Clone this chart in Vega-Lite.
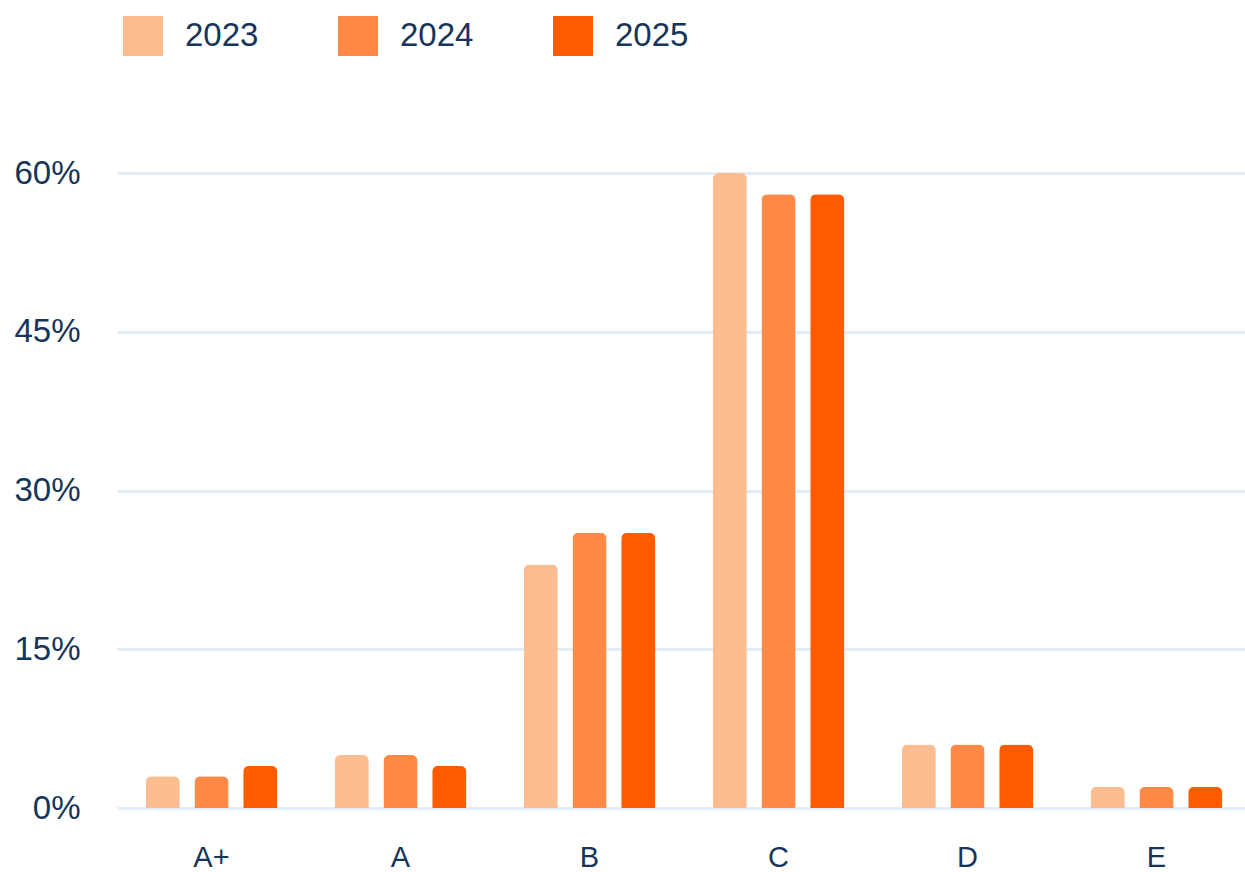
{
  "$schema": "https://vega.github.io/schema/vega-lite/v6.json",
  "width": 1134,
  "height": 635,
  "autosize": {"type": "none"},
  "padding": {"left": 117, "top": 173, "right": 0, "bottom": 64},
  "background": "white",
  "config": {
    "view": {"stroke": null},
    "font": "Liberation Sans",
    "axis": {"labelColor": "#17355A", "labelFont": "Liberation Sans"},
    "legend": {"labelColor": "#17355A", "labelFont": "Liberation Sans"}
  },
  "data": {
    "values": [
      {"grade": "A+", "year": "2023", "share": 3},
      {"grade": "A+", "year": "2024", "share": 3},
      {"grade": "A+", "year": "2025", "share": 4},
      {"grade": "A", "year": "2023", "share": 5},
      {"grade": "A", "year": "2024", "share": 5},
      {"grade": "A", "year": "2025", "share": 4},
      {"grade": "B", "year": "2023", "share": 23},
      {"grade": "B", "year": "2024", "share": 26},
      {"grade": "B", "year": "2025", "share": 26},
      {"grade": "C", "year": "2023", "share": 60},
      {"grade": "C", "year": "2024", "share": 58},
      {"grade": "C", "year": "2025", "share": 58},
      {"grade": "D", "year": "2023", "share": 6},
      {"grade": "D", "year": "2024", "share": 6},
      {"grade": "D", "year": "2025", "share": 6},
      {"grade": "E", "year": "2023", "share": 2},
      {"grade": "E", "year": "2024", "share": 2},
      {"grade": "E", "year": "2025", "share": 2}
    ]
  },
  "mark": {"type": "bar", "cornerRadiusTopLeft": 6, "cornerRadiusTopRight": 6},
  "encoding": {
    "x": {
      "field": "grade",
      "type": "nominal",
      "sort": ["A+", "A", "B", "C", "D", "E"],
      "scale": {"paddingInner": 0, "paddingOuter": 0},
      "axis": {
        "title": null,
        "labelAngle": 0,
        "labelFontSize": 29,
        "labelPadding": 35,
        "domain": false,
        "ticks": false,
        "grid": false
      }
    },
    "xOffset": {
      "field": "year",
      "type": "nominal",
      "scale": {"paddingInner": 0.3, "paddingOuter": 0.588}
    },
    "y": {
      "field": "share",
      "type": "quantitative",
      "scale": {"domain": [0, 60], "nice": false},
      "axis": {
        "title": null,
        "values": [0, 15, 30, 45, 60],
        "labelExpr": "datum.value + '%'",
        "labelFontSize": 33,
        "labelPadding": 37,
        "domain": false,
        "ticks": false,
        "grid": true,
        "gridColor": "#E3EDF9",
        "gridWidth": 3
      }
    },
    "color": {
      "field": "year",
      "type": "nominal",
      "scale": {"domain": ["2023", "2024", "2025"], "range": ["#FCBE91", "#FF8A47", "#FF5C00"]},
      "legend": {
        "title": null,
        "orient": "none",
        "legendX": 6,
        "legendY": -157,
        "direction": "horizontal",
        "columns": 3,
        "symbolType": "square",
        "symbolSize": 1600,
        "symbolStrokeWidth": 0,
        "symbolOpacity": 1,
        "labelFontSize": 33,
        "labelOffset": 22,
        "columnPadding": 79
      }
    }
  }
}
